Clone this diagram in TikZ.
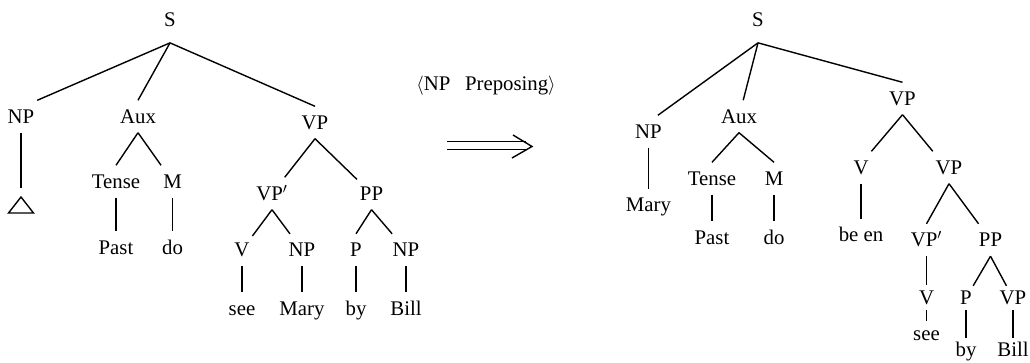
\documentclass[tikz,border=0pt]{standalone}
\usepackage{fontspec}
\setmainfont{Liberation Serif}
\newfontfamily\treefont{Liberation Serif}
\begin{document}
\begin{tikzpicture}[x=0.75pt,y=-0.75pt,
  t/.style={font=\treefont\fontsize{15.6}{18}\selectfont, text height=9.9pt, text depth=0pt,
            inner xsep=2pt, inner ysep=7pt},
  ts/.style={t, inner ysep=4pt},
  top/.style={t, inner ysep=12pt},
  br/.style={line width=1.05pt}]
\useasboundingbox (0,0) rectangle (1030,363);

% ---------- left tree ----------
\node[top] (S1) at (170,20) {S};
\node[t] (NP1) at (21,116.5) {NP};
\coordinate (tri) at (21,197);
\node[t] (Aux1) at (138,116.5) {Aux};
\node[t] (Tense1) at (116,181.5) {Tense};
\node[t] (M1) at (172.5,181.5) {M};
\node[t] (Past1) at (116,247.5) {Past};
\node[t] (do1) at (172.5,247.5) {do};
\node[t] (VP1) at (315,122.5) {VP};
\node[t] (VPp1) at (272,193.5) {VP$'$};
\node[t] (PP1) at (371.5,193.5) {PP};
\node[t] (V1) at (242,250) {V};
\node[t] (NP2) at (302,250) {NP};
\node[t] (P1) at (356,250) {P};
\node[t] (NP3) at (406,250) {NP};
\node[t] (see1) at (242,308.5) {see};
\node[t] (Mary1) at (302,308.5) {Mary};
\node[t] (by1) at (356,308.5) {by};
\node[t] (Bill1) at (406,308.5) {Bill};

\draw[br] (S1.south) -- (NP1.north east);
\draw[br] (S1.south) -- (Aux1.north);
\draw[br] (S1.south) -- (VP1.north);
\draw[br, shorten >=6.5pt] (NP1.south) -- (tri);
\draw[br] (tri) -- ++(-12.5,16) -- ++(25,0) -- cycle;
\draw[br] (Aux1.south) -- (Tense1.north);
\draw[br] (Aux1.south) -- (M1);
\draw[br] (Tense1.south) -- (Past1.north);
\draw[br] (M1.south) -- (do1.north);
\draw[br] (VP1.south) -- (VPp1);
\draw[br] (VP1.south) -- (PP1);
\draw[br] (VPp1.south) -- (V1);
\draw[br] (VPp1.south) -- (NP2);
\draw[br] (PP1.south) -- (P1.north);
\draw[br] (PP1.south) -- (NP3);
\draw[br] (V1.south) -- (see1.north);
\draw[br] (NP2.south) -- (Mary1.north);
\draw[br] (P1.south) -- (by1.north);
\draw[br] (NP3.south) -- (Bill1.north);

% ---------- transformation arrow ----------
\node[t] (rule) at (486,84) {$\langle$NP\hspace{11pt}Preposing$\rangle$};
\coordinate (aL) at (447,145.5);
\coordinate (aM) at (526,145.5);
\coordinate (aR) at (532,146.5);
\coordinate (ah1) at (513,135);
\coordinate (ah2) at (512,158);
\draw[line width=0.9pt, double, double distance=4.6pt] (aL) -- (aM);
\draw[br] (ah1) -- (aR) -- (ah2);

% ---------- right tree ----------
\node[top] (S2) at (758,20) {S};
\node[t] (NP4) at (648.5,131.5) {NP};
\node[t] (Mary2) at (648.5,205) {Mary};
\node[t] (Aux2) at (739,116.5) {Aux};
\node[t] (Tense2) at (712,178.5) {Tense};
\node[t] (M2) at (774,178.5) {M};
\node[t] (Past2) at (712,237.5) {Past};
\node[t] (do2) at (774,237.5) {do};
\node[t] (VP2) at (902.5,98.5) {VP};
\node[t] (V2) at (861,167.5) {V};
\node[t] (VP3) at (949,167.5) {VP};
\node[t] (been) at (861,235) {be en};
\node[t] (VPp2) at (926.5,240) {VP$'$};
\node[t] (PP2) at (990.5,240) {PP};
\node[ts] (V3) at (926.5,297.5) {V};
\node[ts] (see2) at (926.5,333.5) {see};
\node[ts] (P2) at (966,298) {P};
\node[ts] (VP4) at (1013,298) {VP};
\node[ts] (by2) at (966,350) {by};
\node[ts] (Bill2) at (1013,350) {Bill};

\draw[br] (S2.south) -- (NP4.60);
\draw[br] (S2.south) -- (Aux2);
\draw[br] (S2.south) -- (VP2.north);
\draw[br] (NP4.south) -- (Mary2.north);
\draw[br] (Aux2.south) -- (Tense2.north);
\draw[br] (Aux2.south) -- (M2.north);
\draw[br] (Tense2.south) -- (Past2.north);
\draw[br] (M2.south) -- (do2.north);
\draw[br] (VP2.south) -- (V2.north east);
\draw[br] (VP2.south) -- (VP3.north west);
\draw[br] (V2.south) -- (been.north);
\draw[br] (VP3.south) -- (VPp2.north);
\draw[br] (VP3.south) -- (PP2);
\draw[br] (VPp2.south) -- (V3.north);
\draw[br] (V3.south) -- (see2.north);
\draw[br] (PP2.south) -- (P2);
\draw[br] (PP2.south) -- (VP4);
\draw[br] (P2.south) -- (by2.north);
\draw[br] (VP4.south) -- (Bill2.north);
\end{tikzpicture}
\end{document}
